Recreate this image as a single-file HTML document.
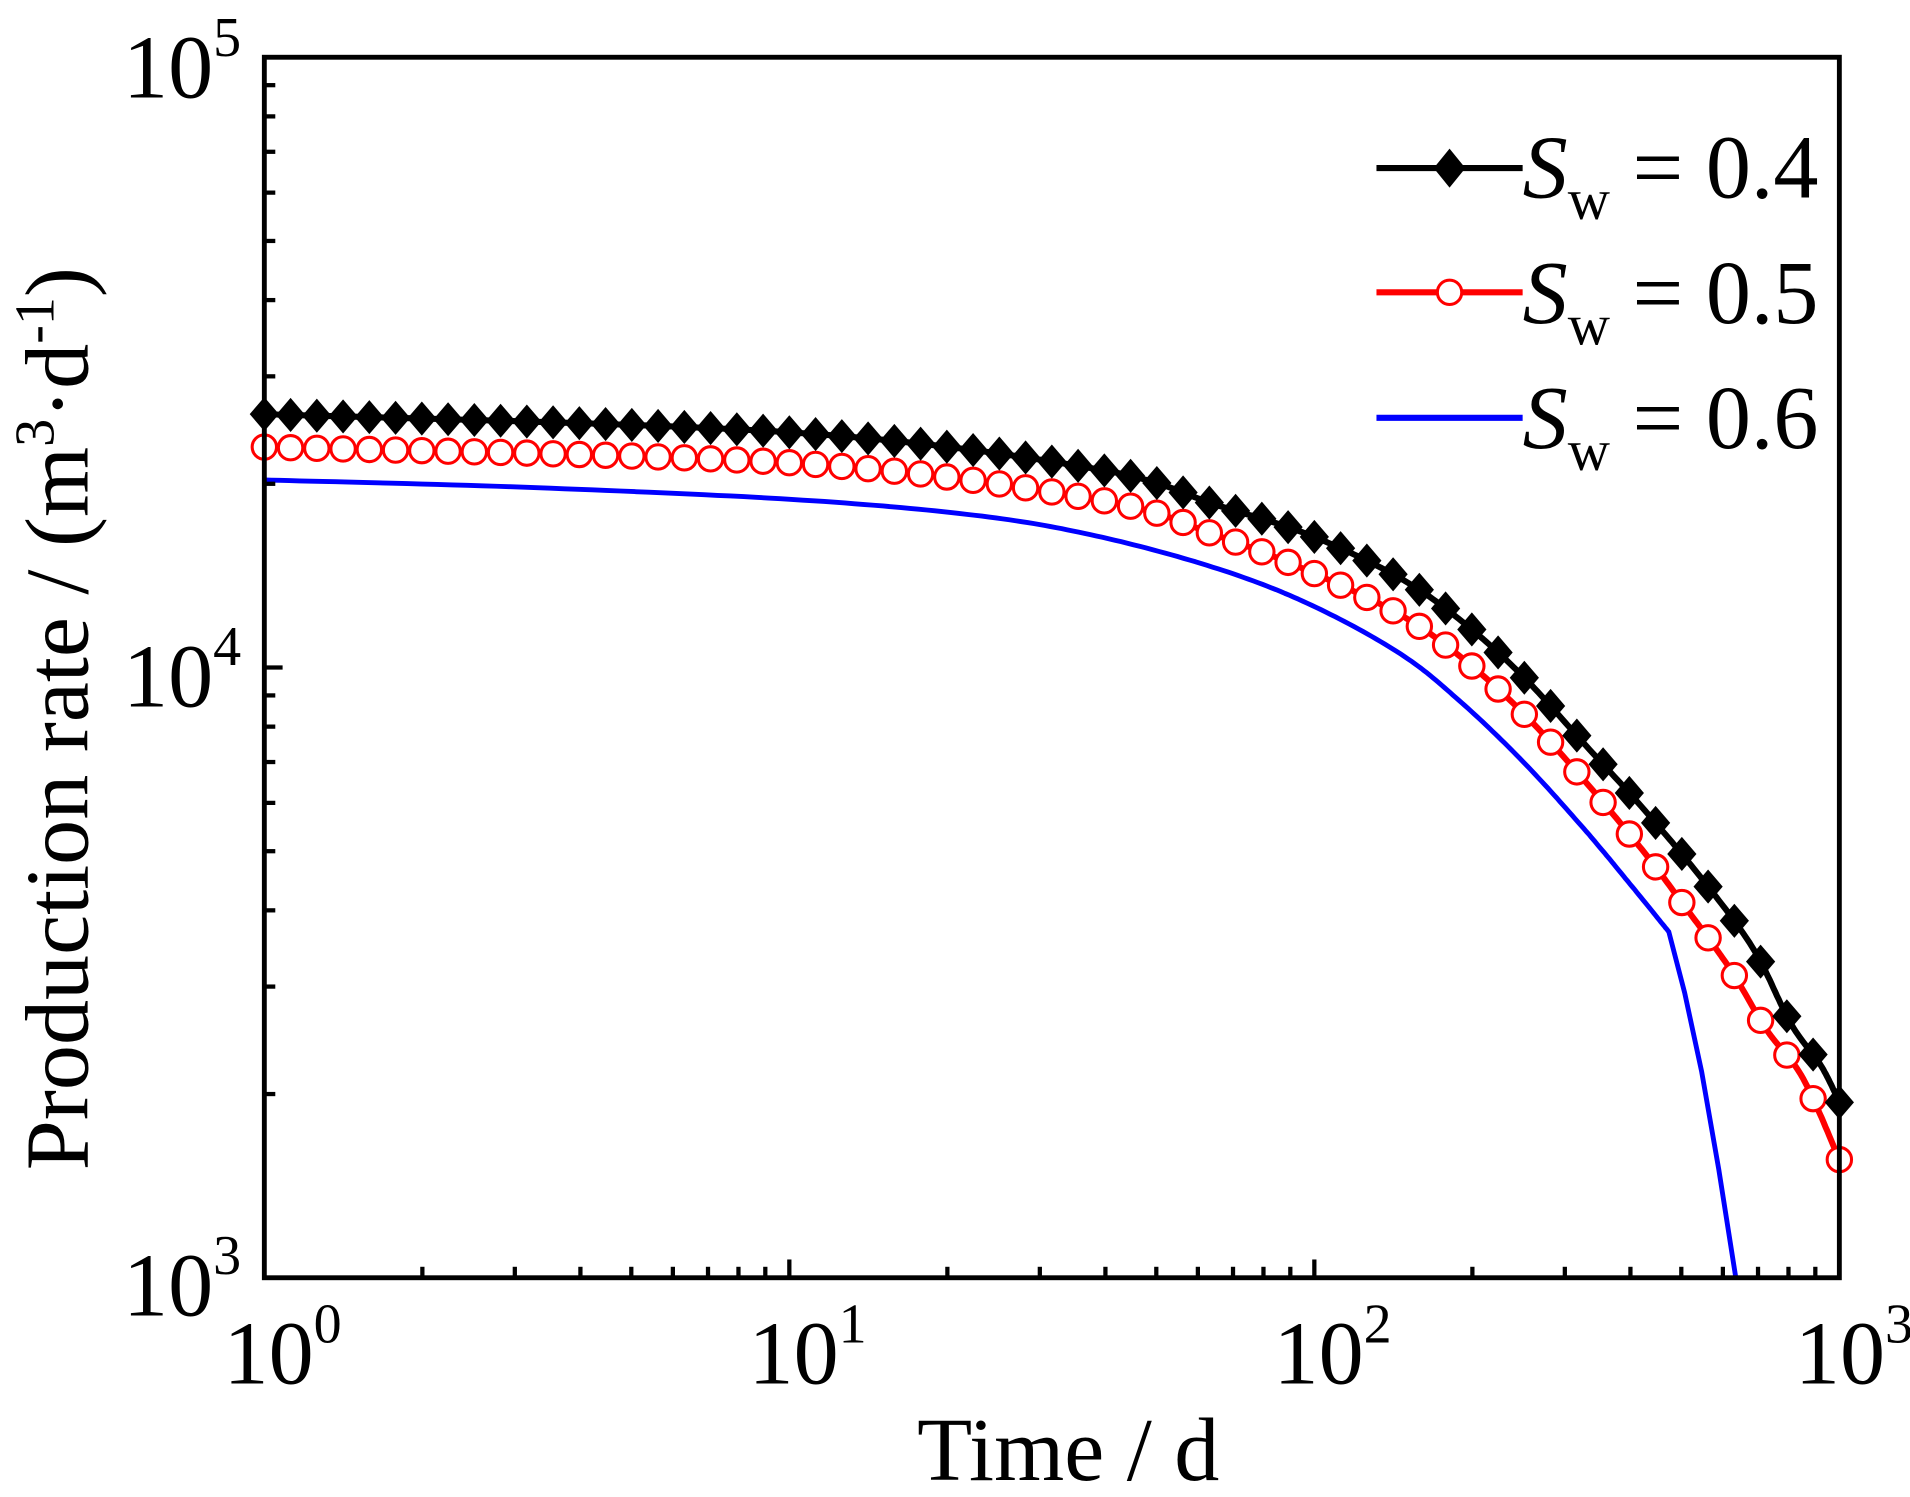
<!DOCTYPE html>
<html><head><meta charset="utf-8"><style>
html,body{margin:0;padding:0;background:#fff;}
svg{display:block;}
text{font-family:"Liberation Serif",serif;fill:#000;}
</style></head><body>
<svg id="s" width="1910" height="1497" viewBox="0 0 1568 1229" preserveAspectRatio="none" xmlns="http://www.w3.org/2000/svg">
<rect x="0" y="0" width="1568" height="1229" fill="#fff"/>
<g id="plot"></g>
<rect x="217" y="47" width="1293" height="1002" fill="none" stroke="#000" stroke-width="4"/>
<g id="ticks" stroke="#000" stroke-width="3.5"></g>
<g font-size="74">
<text x="198" y="80" text-anchor="end">10<tspan dy="-34" font-size="46">5</tspan></text>
<text x="198" y="580" text-anchor="end">10<tspan dy="-34" font-size="46">4</tspan></text>
<text x="198" y="1080" text-anchor="end">10<tspan dy="-34" font-size="46">3</tspan></text>
<text x="232" y="1136" text-anchor="middle">10<tspan dy="-34" font-size="46">0</tspan></text>
<text x="663" y="1136" text-anchor="middle">10<tspan dy="-34" font-size="46">1</tspan></text>
<text x="1094" y="1136" text-anchor="middle">10<tspan dy="-34" font-size="46">2</tspan></text>
<text x="1522" y="1136" text-anchor="middle">10<tspan dy="-34" font-size="46">3</tspan></text>
<text x="877" y="1215" text-anchor="middle">Time / d</text>
<text transform="translate(72,590) rotate(-90)" text-anchor="middle">Production rate / (m<tspan dy="-28" font-size="46">3</tspan><tspan dy="28">·d</tspan><tspan dy="-28" font-size="46">-1</tspan><tspan dy="28">)</tspan></text>
</g>
<g id="legend">
<line x1="1130" y1="138" x2="1250" y2="138" stroke="#000" stroke-width="5"/>
<polygon points="1190,122 1203,138 1190,154 1177,138" fill="#000"/>
<line x1="1130" y1="240" x2="1250" y2="240" stroke="#f00" stroke-width="5"/>
<circle cx="1190" cy="240" r="10" fill="#fff" stroke="#f00" stroke-width="2.5"/>
<line x1="1130" y1="343" x2="1250" y2="343" stroke="#00f" stroke-width="5"/>
<g font-size="74">
<text x="1250" y="162"><tspan font-style="italic">S</tspan><tspan dy="18" font-size="48">w</tspan><tspan dy="-18"> = 0.4</tspan></text>
<text x="1250" y="265"><tspan font-style="italic">S</tspan><tspan dy="18" font-size="48">w</tspan><tspan dy="-18"> = 0.5</tspan></text>
<text x="1250" y="368"><tspan font-style="italic">S</tspan><tspan dy="18" font-size="48">w</tspan><tspan dy="-18"> = 0.6</tspan></text>
</g>
</g>
</svg>
<script>
var NS="http://www.w3.org/2000/svg";
function el(p,t,a){var e=document.createElementNS(NS,t);for(var k in a)e.setAttribute(k,a[k]);p.appendChild(e);return e;}
var L=217,R=1510,T=47,B=1049,dx=(R-L)/3,dy=(B-T)/2;
var tk=document.getElementById('ticks');
for(var d=0;d<3;d++)for(var m=1;m<10;m++){
 var x=L+dx*(d+Math.log10(m));var len=m==1?15:9;
 if(!(d==0&&m==1)){el(tk,'line',{x1:x,y1:B,x2:x,y2:B-len});}
}
for(var d=0;d<2;d++)for(var m=1;m<10;m++){
 var y=B-dy*(d+Math.log10(m));var len=m==1?15:9;
 if(!(d==0&&m==1)){el(tk,'line',{x1:L,y1:y,x2:L+len,y2:y});}
}
var black=[[217,340],[650,355],[900,385],[1000,415],[1077,440],[1150,475],[1200,510],[1250,555],[1300,610],[1350,665],[1400,725],[1440,780],[1470,840],[1495,875],[1510,905]];
var red=[[217,367],[650,380],[900,410],[1000,440],[1077,470],[1150,505],[1200,540],[1250,585],[1300,640],[1350,700],[1380,740],[1420,795],[1450,845],[1480,885],[1510,952]];
var blue=[[217,394],[430,400],[650,410],[800,423],[900,440],[1000,467],[1077,497],[1150,537],[1200,577],[1250,625],[1300,680],[1340,728],[1370,765]];
var blueTail=[[1383,815],[1397,880],[1411,960],[1425,1049]];
function smooth(P){var out=[];for(var i=0;i<P.length-1;i++){var p0=P[Math.max(i-1,0)],p1=P[i],p2=P[i+1],p3=P[Math.min(i+2,P.length-1)];
 for(var s=0;s<20;s++){var t=s/20,t2=t*t,t3=t2*t;
  var f=function(a,b,c,d){return 0.5*((2*b)+(-a+c)*t+(2*a-5*b+4*c-d)*t2+(-a+3*b-3*c+d)*t3);};
  out.push([f(p0[0],p1[0],p2[0],p3[0]),f(p0[1],p1[1],p2[1],p3[1])]);}}
 out.push(P[P.length-1]);return out;}
var bl=smooth(black),rd=smooth(red),bu=smooth(blue).concat(blueTail);
function interp(P,x){for(var i=0;i<P.length-1;i++){if(x>=P[i][0]&&x<=P[i+1][0]){var t=(x-P[i][0])/((P[i+1][0]-P[i][0])||1);return P[i][1]+t*(P[i+1][1]-P[i][1]);}}return P[P.length-1][1];}
var plot=document.getElementById('plot');
function path(P,c,w){var s='M'+P.map(function(p){return p[0].toFixed(1)+','+p[1].toFixed(1);}).join(' L');el(plot,'path',{d:s,fill:'none',stroke:c,'stroke-width':w,'stroke-linejoin':'round'});}
path(bu,'#00f',4);
path(rd,'#f00',5);
path(bl,'#000',5);
var N=60;
for(var i=0;i<=N;i++){var x=L+(R-L)*i/N;var y=interp(rd,x);el(plot,'circle',{cx:x,cy:y,r:10,fill:'#fff',stroke:'#f00','stroke-width':2.5});}
for(var i=0;i<=N;i++){var x=L+(R-L)*i/N;var y=interp(bl,x);el(plot,'polygon',{points:x+','+(y-14)+' '+(x+12)+','+y+' '+x+','+(y+14)+' '+(x-12)+','+y,fill:'#000'});}
</script>
</body></html>
